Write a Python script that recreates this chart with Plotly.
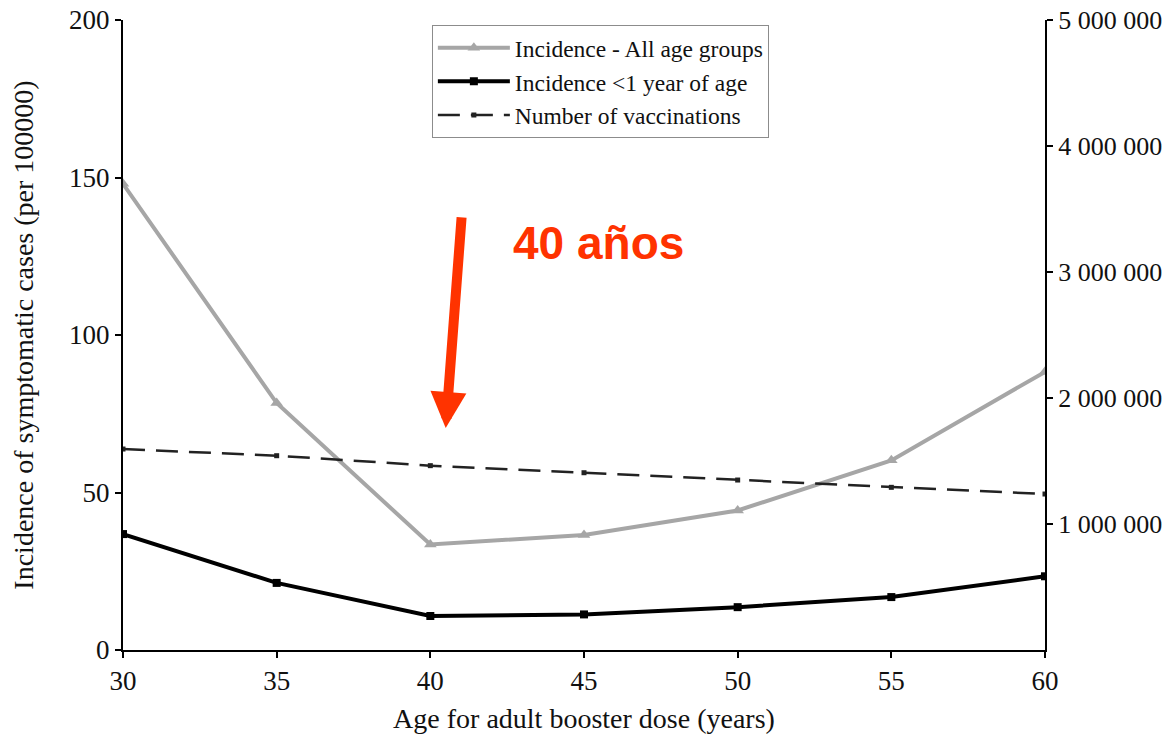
import plotly.graph_objects as go

ages = [30, 35, 40, 45, 50, 55, 60]
inc_all = [148, 78.4, 33.5, 36.5, 44.3, 60.2, 88.3]
inc_infant = [36.8, 21.3, 10.8, 11.3, 13.6, 16.8, 23.4]
vaccinations = [1595000, 1542000, 1463000, 1407000, 1349000, 1291000, 1238000]
right_ticks = [1000000, 2000000, 3000000, 4000000, 5000000]
right_labels = ["1 000 000", "2 000 000", "3 000 000", "4 000 000", "5 000 000"]

serif = "Liberation Serif"
red = "#ff3300"

fig = go.Figure()
fig.add_trace(go.Scatter(
    x=ages, y=inc_all, name="Incidence - All age groups", mode="lines+markers",
    line=dict(color="#a6a6a6", width=4),
    marker=dict(symbol="triangle-up", size=11, color="#a6a6a6")))
fig.add_trace(go.Scatter(
    x=ages, y=inc_infant, name="Incidence <1 year of age", mode="lines+markers",
    line=dict(color="#000000", width=4),
    marker=dict(symbol="square", size=8, color="#000000")))
fig.add_trace(go.Scatter(
    x=ages, y=vaccinations, name="Number of vaccinations", mode="lines+markers",
    yaxis="y2",
    line=dict(color="#222222", width=2.5, dash="22px,11px"),
    marker=dict(symbol="square", size=5, color="#222222")))

axis_common = dict(
    showgrid=False, zeroline=False, automargin=False,
    showline=True, linecolor="#000000", linewidth=2,
    ticks="outside", ticklen=6, tickwidth=2, tickcolor="#000000",
    ticklabeloverflow="allow")

fig.update_layout(
    width=1170, height=738,
    margin=dict(l=123, r=125, t=20, b=88),
    paper_bgcolor="white", plot_bgcolor="white",
    font=dict(family=serif, color="#111111", size=24),
    showlegend=True,
    legend=dict(
        x=0.335, y=0.992, xanchor="left", yanchor="top",
        bordercolor="#8c8c8c", borderwidth=1, bgcolor="white",
        font=dict(family=serif, size=23.5, color="#111111"),
        itemwidth=72, tracegroupgap=0),
    xaxis=dict(
        range=[30, 60], tickvals=ages, tickfont=dict(size=27), **axis_common,
        title=dict(text="Age for adult booster dose (years)", font=dict(size=28), standoff=13)),
    yaxis=dict(
        range=[0, 200], tickvals=[0, 50, 100, 150, 200], tickfont=dict(size=27), **axis_common,
        title=dict(text="Incidence of symptomatic cases (per 100000)", font=dict(size=28), standoff=27)),
    yaxis2=dict(
        range=[0, 5000000], overlaying="y", side="right",
        tickvals=right_ticks, ticktext=right_labels, tickfont=dict(size=26), **axis_common),
)

fig.add_annotation(
    x=40.5, y=70.5, xref="x", yref="y", text="", showarrow=True,
    ax=16, ay=-212, axref="pixel", ayref="pixel",
    arrowhead=2, arrowsize=0.72, arrowwidth=10, arrowcolor=red)
fig.add_annotation(
    x=45.46, y=129.2, xref="x", yref="y", text="<b>40 años</b>", showarrow=False,
    font=dict(family="Liberation Sans", size=46, color=red))

fig.write_html(
    "out.html",
    config={"displayModeBar": False},
    post_script="document.body.style.margin='0';document.documentElement.style.overflow='hidden';")
